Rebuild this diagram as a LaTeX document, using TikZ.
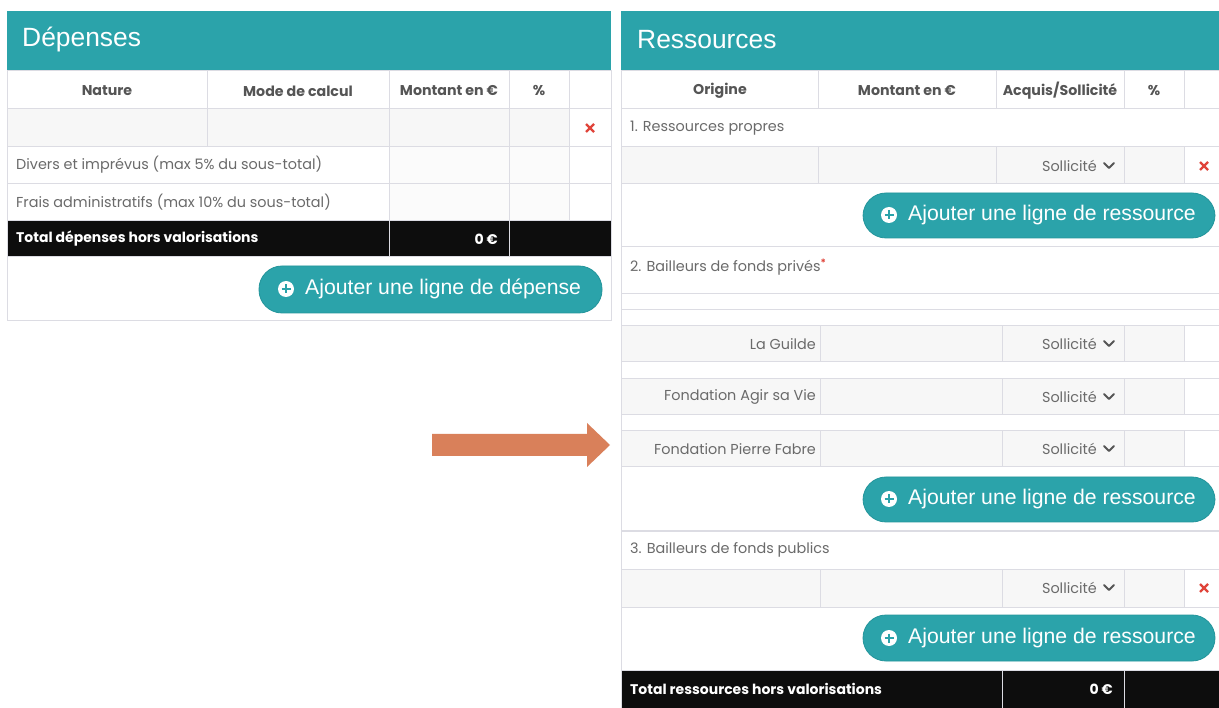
\documentclass[tikz,border=0pt]{standalone}
\usepackage{fontspec}
\setmainfont{Poppins}
\newfontfamily\arialfont{Liberation Sans}
\usetikzlibrary{calc}
\definecolor{hdrteal}{HTML}{2BA3AA}
\definecolor{btnedge}{HTML}{23959B}
\definecolor{gridgray}{HTML}{DCDCE3}
\definecolor{rowgray}{HTML}{F7F7F7}
\definecolor{bodytext}{HTML}{6A6A6A}
\definecolor{headtext}{HTML}{555555}
\definecolor{xred}{HTML}{E0443A}
\definecolor{arroworange}{HTML}{D9805A}
\newcommand\titlefs{\arialfont\fontsize{26.4}{30}\selectfont}
\newcommand\bodyfs{\fontsize{14.4}{16}\selectfont}
\newcommand\headfs{\fontsize{14.2}{16}\selectfont\bfseries}
\newcommand\totfs{\fontsize{14}{16}\selectfont\bfseries}
\newcommand\btnfs{\arialfont\fontsize{21.2}{24}\selectfont}
\begin{document}
\begin{tikzpicture}[x=1pt,y=-1pt,
  grid/.style={draw=gridgray,line width=1pt},
  graycell/.style={fill=rowgray},
  title/.style={anchor=west,text=white,font=\titlefs,inner sep=0pt},
  colhead/.style={text=headtext,font=\headfs,inner sep=0pt},
  body/.style={text=bodytext,font=\bodyfs,inner sep=0pt},
  totaltext/.style={text=white,font=\totfs,inner sep=0pt},
  btn/.style={fill=hdrteal,draw=btnedge,line width=0.8pt,rounded corners=23pt},
  btntext/.style={anchor=west,text=white,font=\btnfs,inner sep=0pt},
  xmark/.style={draw=xred,line width=2.2pt},
  chev/.style={draw=headtext,line width=2pt,line cap=round,line join=round},
]
\useasboundingbox[fill=white] (0,0) rectangle (1219,708);

% ================= LEFT PANEL : Depenses =================
\fill[hdrteal] (7,11) rectangle (611,71);
\node[title] (dtitle) at (22,40) {Dépenses};
% gray cells
\fill[graycell] (7,109) rectangle (569,147);
\fill[fill=white!97!gray] (389,147) rectangle (569,221);
% total row
\fill[black!95] (7,221) rectangle (611,257);
% grid
\draw[grid] (7,71) rectangle (611,321);
\foreach \yy in {109,147,184,221,257} \draw[grid] (7,\yy) -- (611,\yy);
\draw[grid] (207,71) -- (207,147);
\draw[grid] (389,71) -- (389,257);
\draw[grid] (509,71) -- (509,257);
\draw[grid] (569,71) -- (569,221);
% header texts
\node[colhead] (dh1) at (107,91) {Nature};
\node[colhead] (dh2) at (298,91) {Mode de calcul};
\node[colhead] (dh3) at (449,91) {Montant en €};
\node[colhead] (dh4) at (539,91) {\%};
% delete mark
\coordinate (dx) at (590,128);
\draw[xmark] ($(dx)+(-4,-4)$) -- ($(dx)+(4,4)$) ($(dx)+(-4,4)$) -- ($(dx)+(4,-4)$);
\node[body,anchor=west] (ddiv) at (16,165) {Divers et imprévus (max 5\% du sous-total)};
\node[body,anchor=west] (dfrais) at (16,202) {Frais administratifs (max 10\% du sous-total)};
\node[totaltext,anchor=west] (dtot) at (16,239) {Total dépenses hors valorisations};
\node[totaltext,anchor=east] (dtotv) at (498,239) {0 €};
% button
\draw[btn] (259,266) rectangle (602,313);
\node[circle,fill=white,minimum size=16pt,inner sep=0pt] (dicon) at (286,289) {};
\draw[hdrteal,line width=2pt] ($(dicon)+(-4.5,0)$) -- ($(dicon)+(4.5,0)$) ($(dicon)+(0,-4.5)$) -- ($(dicon)+(0,4.5)$);
\node[btntext] (dbtn) at (305,289) {Ajouter une ligne de dépense};

% ================= ARROW =================
\fill[arroworange] (432,434) -- (587,434) -- (587,423) -- (610,445) -- (587,467) -- (587,456) -- (432,456) -- cycle;

% ================= RIGHT PANEL : Ressources =================
\fill[hdrteal] (621,11) rectangle (1219,71);
\node[title] (rtitle) at (637,40) {Ressources};
% gray cells
\fill[graycell] (621,147) rectangle (1184,184);
\fill[graycell] (621,326) rectangle (1184,362);
\fill[graycell] (621,379) rectangle (1184,415);
\fill[graycell] (621,431) rectangle (1184,467);
\fill[graycell] (621,569) rectangle (1184,607);
% total row
\fill[black!95] (621,670) rectangle (1219,708);
% grid
\draw[grid] (621,71) -- (1219,71);
\draw[grid] (621,71) -- (621,708);
\foreach \yy in {109,147,184,247,294,310,326,362,379,415,431,467,531,569,607,670}
  \draw[grid] (621,\yy) -- (1219,\yy);
% header columns
\foreach \xx in {818,996,1124,1184} \draw[grid] (\xx,71) -- (\xx,109);
\foreach \xx in {818,996,1124,1184} \draw[grid] (\xx,147) -- (\xx,184);
\foreach \ya/\yb in {326/362,379/415,431/467,569/607}
  \foreach \xx in {820,1002,1124,1184} \draw[grid] (\xx,\ya) -- (\xx,\yb);
\draw[grid] (1002,670) -- (1002,708);
\draw[grid] (1124,670) -- (1124,708);
% header texts
\node[colhead] (rh1) at (720,91) {Origine};
\node[colhead] (rh2) at (907,91) {Montant en €};
\node[colhead] (rh3) at (1060,91) {Acquis/Sollicité};
\node[colhead] (rh4) at (1154,91) {\%};
% section 1
\node[body,anchor=west] (rs1) at (630,128) {1. Ressources propres};
\node[body,anchor=east] (rsol1) at (1097,166) {Sollicité};
\draw[chev] (1104,163) -- (1109,168) -- (1114,163);
\coordinate (rx1) at (1204,166);
\draw[xmark] ($(rx1)+(-4,-4)$) -- ($(rx1)+(4,4)$) ($(rx1)+(-4,4)$) -- ($(rx1)+(4,-4)$);
\draw[btn] (863,193) rectangle (1215,238);
\node[circle,fill=white,minimum size=16pt,inner sep=0pt] (ricon1) at (889,215) {};
\draw[hdrteal,line width=2pt] ($(ricon1)+(-4.5,0)$) -- ($(ricon1)+(4.5,0)$) ($(ricon1)+(0,-4.5)$) -- ($(ricon1)+(0,4.5)$);
\node[btntext] (rbtn1) at (908,215) {Ajouter une ligne de ressource};
% section 2
\node[body,anchor=west] (rs2) at (630,267) {2. Bailleurs de fonds privés\textcolor{xred}{\textsuperscript{\bfseries *}}};
\node[body,anchor=east] (rg1) at (816,344) {La Guilde};
\node[body,anchor=east] (rsol2) at (1097,344) {Sollicité};
\draw[chev] (1104,341) -- (1109,346) -- (1114,341);
\node[body,anchor=east] (rg2) at (816,397) {Fondation Agir sa Vie};
\node[body,anchor=east] (rsol3) at (1097,397) {Sollicité};
\draw[chev] (1104,394) -- (1109,399) -- (1114,394);
\node[body,anchor=east] (rg3) at (816,449) {Fondation Pierre Fabre};
\node[body,anchor=east] (rsol4) at (1097,449) {Sollicité};
\draw[chev] (1104,446) -- (1109,451) -- (1114,446);
\draw[btn] (863,477) rectangle (1215,522);
\node[circle,fill=white,minimum size=16pt,inner sep=0pt] (ricon2) at (889,499) {};
\draw[hdrteal,line width=2pt] ($(ricon2)+(-4.5,0)$) -- ($(ricon2)+(4.5,0)$) ($(ricon2)+(0,-4.5)$) -- ($(ricon2)+(0,4.5)$);
\node[btntext] (rbtn2) at (908,499) {Ajouter une ligne de ressource};
% section 3
\node[body,anchor=west] (rs3) at (630,550) {3. Bailleurs de fonds publics};
\node[body,anchor=east] (rsol5) at (1097,588) {Sollicité};
\draw[chev] (1104,585) -- (1109,590) -- (1114,585);
\coordinate (rx2) at (1204,588);
\draw[xmark] ($(rx2)+(-4,-4)$) -- ($(rx2)+(4,4)$) ($(rx2)+(-4,4)$) -- ($(rx2)+(4,-4)$);
\draw[btn] (863,615) rectangle (1215,661);
\node[circle,fill=white,minimum size=16pt,inner sep=0pt] (ricon3) at (889,638) {};
\draw[hdrteal,line width=2pt] ($(ricon3)+(-4.5,0)$) -- ($(ricon3)+(4.5,0)$) ($(ricon3)+(0,-4.5)$) -- ($(ricon3)+(0,4.5)$);
\node[btntext] (rbtn3) at (908,638) {Ajouter une ligne de ressource};
% total
\node[totaltext,anchor=west] (rtot) at (630,689) {Total ressources hors valorisations};
\node[totaltext,anchor=east] (rtotv) at (1113,689) {0 €};
\end{tikzpicture}
\end{document}
